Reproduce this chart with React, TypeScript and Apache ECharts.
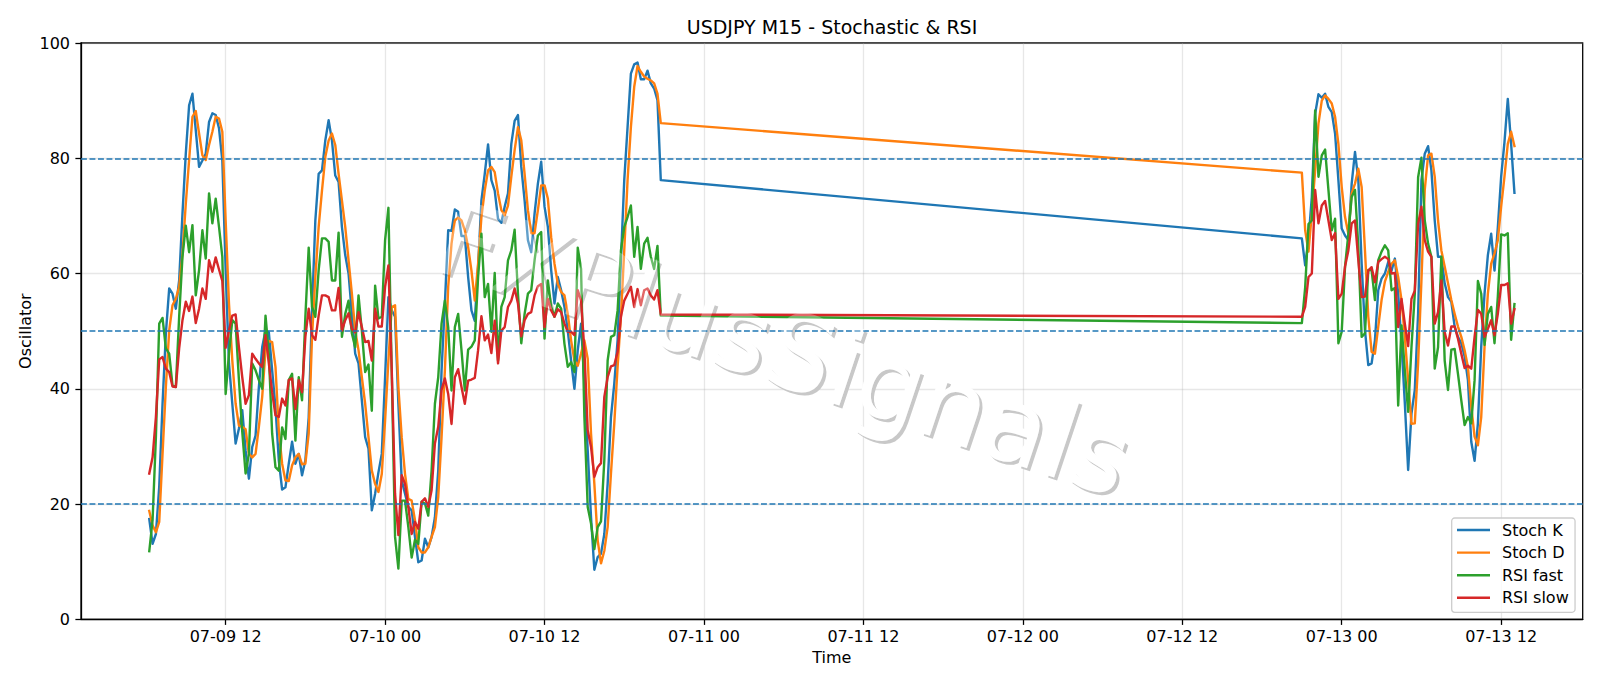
import { useEffect, useRef } from 'react';
import * as echarts from 'echarts';

const FONT = '"DejaVu Sans", sans-serif';
const QUARTER = 15 * 60 * 1000;

// two trading sessions, one point every 15 minutes
const session1Start = Date.UTC(2026, 6, 9, 6, 15);
const session1Count = 155;
const session2Start = Date.UTC(2026, 6, 12, 21, 0);
const session2Count = 65;

const tickLabels = ['07-09 12', '07-10 00', '07-10 12', '07-11 00', '07-11 12', '07-12 00', '07-12 12', '07-13 00', '07-13 12'];
const levels = [20, 50, 80];

const stochK = [
  17.4, 13.1, 14.8, 23, 37.4, 49.6, 57.4, 56.5, 53.9, 58.8,
  70.4, 80.8, 89.2, 91.2, 84.9, 78.5, 79.6, 80.8, 86.3, 87.8,
  87.5, 85.2, 79.6, 60.6, 44.4, 37.4, 30.5, 33.1, 36.3, 29.3,
  24.4, 29.9, 31.9, 40.3, 47.2, 50.1, 49.8, 43.2, 36.8, 27.6,
  22.5, 22.9, 27, 30.8, 27, 28.7, 25, 27.6, 35, 53.6,
  69.2, 77.3, 77.9, 83.1, 86.6, 83.1, 77, 75.9, 68.1, 63.2,
  60, 53, 46.1, 44.4, 38, 31.6, 29.6, 18.9, 21.8, 25.5,
  28.7, 42, 55.9, 53.6, 52.5, 37.4, 24.1, 21.8, 19.5, 18.9,
  14.3, 9.9, 10.2, 14, 12.5, 14.3, 17.7, 25.8, 43.2, 54.8,
  67.5, 67.4, 71.1, 70.7, 66.5, 66.5, 59.4, 53.6, 51.8, 61.1,
  72.7, 77.3, 82.4, 76.2, 74.4, 69.5, 68.8, 71.6, 73.9, 82.5,
  86.5, 87.5, 78.5, 72.7, 65.8, 63.7, 70.4, 75.6, 79.4, 71.6,
  68.1, 60.6, 54.8, 59.4, 57.1, 54.2, 50.1, 44.9, 40, 46.7,
  51.3, 40.9, 29.3, 17.7, 8.6, 10.8, 11.4, 14.8, 23.5, 35.1,
  40.9, 48.4, 62.3, 76.2, 85.4, 94.7, 96.3, 96.6, 93.7, 93.7,
  95.2, 93, 92.1, 90.1, 76.2,
  // session 2
  66.1, 61.4, 65.8, 73.3, 87.7, 91.1, 90.5, 91.2, 88.9, 88,
  84.3, 76.2, 67.8, 66.6, 65.8, 75.6, 81.1, 76.2, 61.7, 50.2,
  44.1, 44.4, 48.4, 57.1, 59.1, 60, 62, 60.5, 62.6, 56.5,
  47.9, 37.5, 25.9, 35.7, 39.8, 53.1, 76.2, 80.8, 82.1, 77.9,
  69.2, 62.9, 62.9, 58.3, 55.9, 55.1, 50.8, 49, 47.9, 45.6,
  41.5, 30.8, 27.5, 34, 47.3, 56.5, 63.2, 66.9, 60.5, 68,
  76.8, 82.8, 90.3, 82.5, 74,
];

const stochD = [
  18.8, 16.3, 15.1, 16.9, 28.7, 40.3, 50.1, 54.5, 55.6, 57.7,
  63.4, 72.1, 79.7, 87.2, 88.2, 84.3, 80.5, 79.7, 82.3, 84.6,
  87.2, 86.9, 84.6, 69.2, 54.8, 44.9, 37.4, 33.6, 33.4, 33,
  28.7, 28.1, 28.7, 33.4, 38.6, 46.7, 48.3, 48.1, 43.8, 32.8,
  27, 24.1, 24, 26.7, 28.1, 28.7, 26.9, 27, 32.2, 49,
  59.4, 68.1, 74.4, 80.2, 83.1, 84.3, 82.3, 77.3, 72.7, 68.1,
  62.3, 56.5, 50.1, 46.7, 42, 37.4, 31.6, 25.8, 23.5, 22.1,
  25.2, 34.5, 44.9, 54.2, 54.5, 40.3, 31.6, 25.2, 20.9, 20.6,
  17.2, 12.5, 11.6, 11.6, 12.5, 14.3, 16, 21.2, 31.6, 43.2,
  57.7, 65.2, 69.2, 69.7, 69.2, 67.5, 64.6, 60.5, 55.3, 61.7,
  69.8, 74.4, 77.9, 78.5, 77.6, 73.9, 71, 70.1, 71.8, 76.8,
  81.4, 85.4, 83.1, 77.3, 71, 67, 67, 71, 75.3, 75.3,
  73, 66.3, 61.7, 58.2, 56.8, 56.2, 53, 48.4, 44.9, 44,
  46.1, 48.4, 45.2, 32.2, 23.5, 13.7, 9.7, 11.9, 16, 25.3,
  34, 43.8, 52.5, 64, 76.2, 85.4, 92.4, 96, 95, 94.2,
  93.8, 93.5, 93, 91.2, 86.1,
  // session 2
  77.5, 67.5, 63.8, 70.4, 77.9, 86, 90, 90.9, 90.3, 89.5,
  87.2, 82.5, 75, 69.8, 66.9, 73.9, 75.6, 78.2, 75, 64,
  52.5, 46.4, 46.1, 50.8, 55.4, 58.6, 60.3, 61.7, 62.3, 59.4,
  55.4, 49, 41.5, 33.9, 34, 44.4, 58.8, 74.5, 80.5, 80.8,
  76.8, 69.2, 64, 61.2, 58.3, 55.4, 53, 50.8, 49, 46.7,
  43.8, 36.9, 31.7, 30.2, 35.1, 47.3, 56.5, 61.7, 63.5, 65.8,
  71.6, 76.8, 82.5, 84.6, 82.1,
];

const rsiFast = [
  11.8, 17.2, 31.6, 51.3, 52.3, 47, 46.1, 40.6, 40.3, 52.5,
  62.9, 68.3, 63.7, 68.4, 56.2, 60.6, 67.5, 62.6, 73.9, 68.7,
  73, 68.1, 62.9, 39.1, 46.1, 51.9, 51.3, 41.5, 32.5, 25.3,
  28.7, 44.4, 43.2, 41.5, 40, 52.7, 46, 32.2, 26.4, 25.8,
  33.3, 31.3, 41.5, 42.6, 31, 42, 38, 52.5, 64.5, 54.2,
  52.5, 60.6, 66.1, 66.1, 65.5, 58.8, 58.8, 67.1, 49, 53,
  55.3, 49.6, 47.2, 56.2, 50.1, 42.9, 44.2, 36.2, 57.9, 52.2,
  52.5, 65.8, 71.4, 43, 14.3, 8.8, 20.6, 20.6, 16, 10.7,
  13.8, 13.1, 20.4, 20.1, 18, 25.8, 37.4, 42, 51.3, 55.3,
  50.7, 39.7, 50.7, 53, 46.7, 39.7, 46.8, 47.3, 48.4, 59.4,
  66.9, 55.9, 58.2, 49.9, 60.1, 44.9, 54.2, 55.9, 62.3, 64,
  67.6, 56.5, 47.9, 53, 56.5, 57.1, 62.3, 66.6, 67.2, 48.7,
  58.8, 54.2, 52.5, 54.8, 53.9, 47.8, 43.8, 44.6, 42.9, 64.5,
  60.8, 35.1, 19.5, 16.6, 12.2, 16, 17, 27.6, 44.9, 49,
  49.3, 53.6, 64, 68.1, 69.8, 71.8, 62.9, 68.1, 60.8, 65.2,
  66.2, 62.9, 60.8, 64.8, 52.7,
  // session 2
  51.4, 57.6, 68.6, 69.2, 88.3, 76.8, 80.5, 81.5, 74.5, 67.5,
  69.5, 47.9, 49.9, 61.2, 66.9, 73.3, 74.5, 64.6, 49, 49.6,
  60.6, 60.6, 55.4, 62.3, 63.8, 64.9, 64, 57.1, 57.5, 37.1,
  51, 43.2, 36, 47.2, 56.5, 76.7, 80.1, 69.2, 65.2, 62.9,
  43.5, 47.2, 62.9, 44.9, 39.8, 46.8, 46.9, 42.6, 38, 33.7,
  35.1, 34, 41.5, 58.7, 56.5, 47.6, 53, 54.2, 47.9, 56,
  66.8, 66.6, 67, 48.5, 54.7,
];

const rsiSlow = [
  25.3, 28.1, 35.1, 45.1, 45.5, 43.5, 42.9, 40.4, 40.3, 47,
  51.9, 55.1, 53.5, 56, 51.4, 53.9, 57.4, 55.6, 62.3, 60.3,
  62.8, 60.7, 58.7, 47.1, 50.1, 52.7, 52.9, 47.2, 42, 37.4,
  38.9, 46.1, 45.2, 44.4, 43.8, 49.3, 44.4, 39.4, 35.4, 35.1,
  38.3, 37.1, 41.5, 41.8, 36.5, 41.5, 39.4, 49, 53.9, 49.3,
  48.5, 52.7, 56.2, 56.2, 55.9, 53.6, 53.6, 57.5, 50.1, 51.9,
  53.1, 50.4, 49.8, 53.3, 50.7, 48.1, 48.3, 44.9, 53.9, 50.8,
  50.8, 57.7, 61.4, 43.2, 21.8, 14.6, 25, 23.5, 19.5, 14.8,
  16.9, 15.7, 20.4, 21, 19.5, 22.4, 30.5, 33.4, 39.8, 41.8,
  39.1, 33.9, 42, 43.4, 40.3, 37.4, 41.4, 41.6, 41.9, 46.7,
  52.6, 48.4, 49.4, 46.2, 51.8, 44.4, 50.1, 50.7, 54.2, 55.3,
  57.4, 54.8, 49.1, 51.9, 53, 53.3, 56.2, 57.8, 58.2, 50.7,
  55.6, 53.6, 52.5, 53.8, 53.3, 51.3, 49.9, 49.9, 49.3, 57.1,
  55.3, 46.7, 32.8, 29.9, 24.7, 26.4, 27.1, 38.6, 42, 43.9,
  44.1, 46.4, 52.5, 55.3, 56.5, 57.7, 54.2, 57.3, 54.5, 57.1,
  57.4, 56.2, 55.5, 57.1, 52.9,
  // session 2
  52.5, 54.2, 59.4, 60, 74.5, 68.7, 71.8, 72.6, 69.2, 65.8,
  67, 55.6, 56.5, 61.2, 64, 68.7, 69.2, 62.3, 55.9, 56,
  60.5, 61.1, 58.5, 62, 62.5, 62.9, 62.5, 60, 60.1, 50.7,
  55.6, 51.3, 47.4, 55.6, 57, 68.6, 71.6, 65.8, 63.8, 62.9,
  51.3, 53.3, 58.8, 49.8, 47.5, 50.8, 50.8, 48.7, 46.1, 43.6,
  44, 43.5, 49, 53.7, 53, 49, 50.4, 51.9, 49.3, 53,
  58, 58, 58.3, 51.3, 53.8,
];

const times: number[] = [];
for (let i = 0; i < session1Count; i++) times.push(session1Start + i * QUARTER);
for (let i = 0; i < session2Count; i++) times.push(session2Start + i * QUARTER);

const tickValues = tickLabels.map((l) => Date.UTC(2026, 6, +l.slice(3, 5), +l.slice(6)));

const seriesDefs = [
  { name: 'Stoch K', color: '#1f77b4', values: stochK },
  { name: 'Stoch D', color: '#ff7f0e', values: stochD },
  { name: 'RSI fast', color: '#2ca02c', values: rsiFast },
  { name: 'RSI slow', color: '#d62728', values: rsiSlow },
];

const firstT = times[0];
const lastT = times[times.length - 1];
const pad = (lastT - firstT) * 0.05;

// watermark: white letters with a grey copy behind them, a faint white copy over the lines
const wmText = 'FXPlusSignals';
const wmBase = {
  type: 'text',
  rotation: (-18.5 * Math.PI) / 180,
  silent: true,
};
const wmStyle = {
  text: wmText,
  fontFamily: FONT,
  fontSize: 105,
  align: 'center',
  verticalAlign: 'middle',
};

const App = () => {
  const chartRef = useRef<HTMLDivElement>(null);

  useEffect(() => {
    if (!chartRef.current) return;
    document.body.style.margin = '0';
    const chart = echarts.init(chartRef.current, null, { renderer: 'svg' });

    chart.setOption({
      animation: false,
      backgroundColor: '#fff',
      textStyle: { fontFamily: FONT },
      title: {
        text: 'USDJPY M15 - Stochastic & RSI',
        left: 827,
        top: 12,
        textAlign: 'center',
        textStyle: { fontFamily: FONT, fontSize: 19, fontWeight: 'normal', color: '#000' },
      },
      grid: {
        left: 81,
        right: 17.3,
        top: 43,
        bottom: 66.7,
        show: true,
        borderColor: '#000',
        borderWidth: 1.28,
      },
      xAxis: {
        type: 'value',
        min: firstT - pad,
        max: lastT + pad,
        name: 'Time',
        nameLocation: 'middle',
        nameGap: 29.5,
        nameTextStyle: { fontFamily: FONT, fontSize: 16, color: '#000' },
        axisLine: { lineStyle: { color: '#000', width: 1.28 } },
        axisTick: { length: 5.6, lineStyle: { color: '#000', width: 1.28 }, customValues: tickValues },
        axisLabel: {
          customValues: tickValues,
          margin: 9,
          fontFamily: FONT,
          fontSize: 16,
          color: '#000',
          formatter: (v: number) => tickLabels[tickValues.indexOf(v)] ?? '',
        },
        splitLine: { show: true, lineStyle: { color: 'rgba(176,176,176,0.3)', width: 1.28 } },
      },
      yAxis: {
        type: 'value',
        min: 0,
        max: 100,
        interval: 20,
        name: 'Oscillator',
        nameLocation: 'middle',
        nameMoveOverlap: false,
        nameGap: 47.5,
        nameTextStyle: { fontFamily: FONT, fontSize: 16, color: '#000' },
        axisLine: { show: true, lineStyle: { color: '#000', width: 1.28 } },
        axisTick: { show: true, length: 5.6, lineStyle: { color: '#000', width: 1.28 } },
        axisLabel: { margin: 11, fontFamily: FONT, fontSize: 16, color: '#000' },
        splitLine: { show: true, lineStyle: { color: 'rgba(176,176,176,0.3)', width: 1.28 } },
      },
      legend: {
        orient: 'vertical',
        left: 1451.7,
        top: 518,
        padding: [3.5, 6.3, 6, 5.3],
        icon: 'rect',
        itemWidth: 33,
        itemHeight: 2.4,
        itemGap: 5.6,
        backgroundColor: 'rgba(255,255,255,0.8)',
        borderColor: '#ccc',
        borderWidth: 1.28,
        borderRadius: 3,
        z: 20,
        textStyle: { fontFamily: FONT, fontSize: 16, color: '#000', padding: [0, 0, 0, 7], lineHeight: 17 },
        data: seriesDefs.map((s) => s.name),
      },
      series: seriesDefs.map((s, idx) => ({
        name: s.name,
        type: 'line',
        showSymbol: false,
        symbol: 'none',
        silent: true,
        itemStyle: { color: s.color },
        lineStyle: { color: s.color, width: 2.4, cap: 'square', join: 'round' },
        data: s.values.map((v, i) => [times[i], v]),
        ...(idx === 3
          ? {
              markLine: {
                silent: true,
                symbol: 'none',
                label: { show: false },
                lineStyle: { color: '#1f77b4', width: 1.6, type: [5.9, 2.6] },
                data: levels.map((y) => ({ yAxis: y })),
              },
            }
          : {}),
      })),
      graphic: [
        { ...wmBase, x: 787, y: 352, z: 1, style: { ...wmStyle, fill: '#c8c8c8' } },
        { ...wmBase, x: 784, y: 349, z: 1.5, style: { ...wmStyle, fill: '#fff' } },
        { ...wmBase, x: 784, y: 349, z: 10, style: { ...wmStyle, fill: 'rgba(255,255,255,0.3)' } },
      ],
    });

    return () => {
      chart.dispose();
    };
  }, []);

  return <div ref={chartRef} style={{ width: '1600px', height: '686px' }} />;
};

export default App;
